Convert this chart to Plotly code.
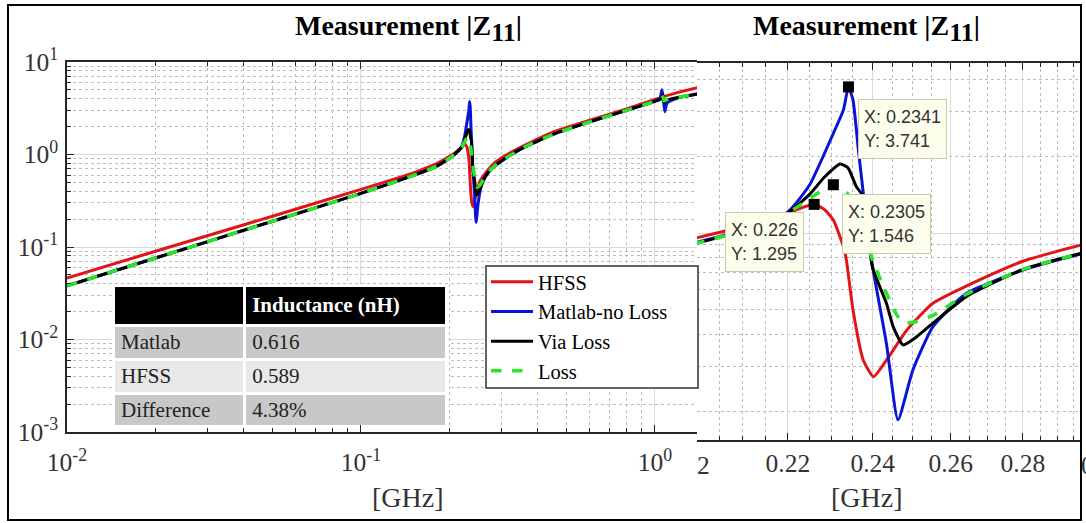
import numpy as np
import plotly.graph_objects as go

W, H = 1086, 523
def px(x): return x / W
def py(y): return 1 - y / H

# ---------------- data (frequency in GHz, |Z11| in ohm) ----------------
f_hfss = [0.01, 0.02, 0.05, 0.1, 0.15, 0.18, 0.2, 0.21, 0.22, 0.226, 0.2283, 0.2305, 0.2329,
          0.2336, 0.2352, 0.2377, 0.2402, 0.2434, 0.2486, 0.2553, 0.2687, 0.28, 0.2977,
          0.35, 0.45, 0.6, 0.8, 1.0, 1.2, 1.4]
z_hfss = [0.046, 0.09, 0.215, 0.42, 0.63, 0.79, 0.955, 1.06, 1.2, 1.295, 1.24, 1.124, 0.884,
          0.784, 0.499, 0.317, 0.273, 0.317, 0.417, 0.530, 0.664, 0.775, 0.90,
          1.2, 1.75, 2.35, 3.1, 3.95, 4.7, 5.3]

f_noloss = [0.01, 0.02, 0.05, 0.1, 0.15, 0.18, 0.2, 0.21, 0.22, 0.225, 0.2305, 0.2329, 0.2341,
            0.2352, 0.2365, 0.2377, 0.2397, 0.2434, 0.2463, 0.2501, 0.2553, 0.2642, 0.28, 0.2977,
            0.35, 0.45, 0.6, 0.8, 1.0, 1.04, 1.056, 1.066, 1.08, 1.1, 1.2, 1.4]
z_noloss = [0.038, 0.076, 0.19, 0.38, 0.59, 0.74, 0.915, 1.03, 1.21, 1.55, 2.46, 3.04, 3.741,
            3.32, 2.115, 1.43, 0.784, 0.369, 0.185, 0.29, 0.429, 0.58, 0.715, 0.83,
            1.15, 1.65, 2.25, 3.0, 3.8, 4.05, 5.0, 4.2, 2.9, 3.6, 4.1, 4.55]

f_via = [0.01, 0.02, 0.05, 0.1, 0.15, 0.18, 0.2, 0.21, 0.22, 0.225, 0.2283, 0.2321, 0.234,
         0.236, 0.2377, 0.2399, 0.2434, 0.2451, 0.2476, 0.2511, 0.2553, 0.2642, 0.28, 0.2977,
         0.35, 0.45, 0.6, 0.8, 1.0, 1.05, 1.065, 1.075, 1.09, 1.2, 1.4]
z_via = [0.038, 0.076, 0.19, 0.38, 0.59, 0.74, 0.91, 1.02, 1.2, 1.42, 1.65, 1.865, 1.80,
         1.52, 1.39, 0.738, 0.53, 0.429, 0.364, 0.392, 0.443, 0.563, 0.72, 0.835,
         1.15, 1.65, 2.25, 3.0, 3.75, 4.0, 4.4, 3.6, 3.85, 4.15, 4.5]

f_loss = [0.01, 0.02, 0.05, 0.1, 0.15, 0.18, 0.2, 0.21, 0.22, 0.2273, 0.2305, 0.232, 0.234,
          0.236, 0.238, 0.24, 0.2434, 0.2463, 0.2481, 0.2511, 0.2553, 0.2642, 0.28, 0.2977,
          0.35, 0.45, 0.6, 0.8, 1.0, 1.05, 1.065, 1.075, 1.09, 1.2, 1.4]
z_loss = [0.038, 0.076, 0.19, 0.38, 0.59, 0.74, 0.91, 1.02, 1.2, 1.45, 1.546, 1.53, 1.42,
          1.22, 0.98, 0.78, 0.58, 0.47, 0.444, 0.45, 0.475, 0.575, 0.72, 0.835,
          1.15, 1.65, 2.25, 3.0, 3.75, 4.0, 4.2, 3.8, 3.9, 4.15, 4.5]

tip_x = [0.2341, 0.2305, 0.226]
tip_y = [3.741, 1.546, 1.295]

table_rows = ["Matlab", "HFSS", "Difference"]
table_vals = ["0.616", "0.589", "4.38%"]

left_xticks = [0.01, 0.1, 1]
left_xtext = ["10<sup>-2</sup>", "10<sup>-1</sup>", "10<sup>0</sup>"]
left_yticks = [0.001, 0.01, 0.1, 1, 10]
left_ytext = ["10<sup>-3</sup>", "10<sup>-2</sup>", "10<sup>-1</sup>", "10<sup>0</sup>", "10<sup>1</sup>"]
right_xticks = [0.22, 0.24, 0.26, 0.28]
right_xtext = ["0.22", "0.24", "0.26", "0.28"]

series = [
    ("HFSS", f_hfss, z_hfss, dict(color="rgb(225,20,25)", width=3)),
    ("Matlab-no Loss", f_noloss, z_noloss, dict(color="rgb(10,20,215)", width=3)),
    ("Via Loss", f_via, z_via, dict(color="black", width=3)),
    ("Loss", f_loss, z_loss, dict(color="rgb(40,230,40)", width=3.5, dash="dash")),
]

fig = go.Figure()
for name, f, z, ln in series:
    fig.add_trace(go.Scatter(x=f, y=z, mode="lines", name=name, line=dict(**ln, shape="spline", smoothing=0.5),
                             xaxis="x", yaxis="y", showlegend=True))
for name, f, z, ln in series:
    fig.add_trace(go.Scatter(x=f, y=z, mode="lines", name=name, line=dict(**ln, shape="spline", smoothing=0.5),
                             xaxis="x2", yaxis="y2", showlegend=False))
fig.add_trace(go.Scatter(x=tip_x, y=tip_y, mode="markers", xaxis="x2", yaxis="y2", showlegend=False,
                         marker=dict(symbol="square", size=11, color="black")))

# table
gray1, gray2 = "rgb(200,200,200)", "rgb(232,232,232)"
fig.add_trace(go.Table(
    domain=dict(x=[px(113), px(446)], y=[py(426), py(285)]),
    columnwidth=[130, 200],
    header=dict(values=["", "<b>Inductance (nH)</b>"], fill_color="black", align="left",
                font=dict(family="Liberation Serif", size=21, color="white"), height=32,
                line=dict(color="white", width=3)),
    cells=dict(values=[table_rows, table_vals], align="left",
               fill_color=[[gray1, gray2, gray1], [gray1, gray2, gray1]],
               font=dict(family="Liberation Serif", size=21, color="#222"), height=34,
               line=dict(color="white", width=3)),
))

def minor_log(lo, hi):
    v = []
    for k in range(lo, hi + 1):
        for m in range(2, 10):
            v.append(m * 10.0 ** k)
    return v

axcol = "#262626"
tickfont = dict(family="Liberation Serif", size=25.5, color="#333")
common = dict(showline=True, linecolor=axcol, linewidth=1.5, ticks="inside", tickcolor=axcol,
              ticklen=7, tickwidth=1.2, gridcolor="#d9d9d9", gridwidth=1, zeroline=False,
              tickfont=tickfont, automargin=False)

fig.update_layout(
    width=W, height=H, margin=dict(l=0, r=0, t=0, b=0, autoexpand=False),
    paper_bgcolor="white", plot_bgcolor="white",
    xaxis=dict(type="log", domain=[px(67), px(697)], range=[-2, np.log10(1.39)], anchor="y",
               tickmode="array", tickvals=left_xticks, ticktext=left_xtext, mirror="ticks",
               ticklabelstandoff=7,
               minor=dict(tickmode="array", tickvals=minor_log(-2, 0), ticks="inside", ticklen=4,
                          tickcolor=axcol, showgrid=True, gridcolor="#bdbdbd", griddash="dot"),
               **common),
    yaxis=dict(type="log", domain=[py(432), py(62)], range=[-3, 1], anchor="x",
               tickmode="array", tickvals=left_yticks, ticktext=left_ytext, ticklabelstandoff=2,
               minor=dict(tickmode="array", tickvals=minor_log(-3, 0), ticks="inside", ticklen=4,
                          tickcolor=axcol, showgrid=True, gridcolor="#bdbdbd", griddash="dot"),
               **common),
    xaxis2=dict(type="log", domain=[px(697), px(1081)], range=[np.log10(0.2004), np.log10(0.2972)],
                anchor="y2", tickmode="array", tickvals=right_xticks, ticktext=right_xtext, mirror="ticks",
                ticklabelstandoff=0,
                minor=dict(tickmode="array",
                           tickvals=[0.205, 0.21, 0.215, 0.225, 0.23, 0.235, 0.245, 0.25, 0.255,
                                     0.265, 0.27, 0.275, 0.285, 0.29, 0.295],
                           ticks="inside", ticklen=4, tickcolor=axcol, showgrid=True,
                           gridcolor="#bdbdbd", griddash="dot"),
                **common),
    yaxis2=dict(type="log", domain=[py(440), py(63)], range=[-0.8118, 0.6667], anchor="x2",
                showline=False, ticks="", showticklabels=False, gridcolor="#d9d9d9", zeroline=False,
                tickmode="array", tickvals=[1], automargin=False,
                minor=dict(tickmode="array", tickvals=[0.2, 0.3, 0.4, 0.5, 0.6, 0.7, 0.8, 0.9, 2, 3, 4],
                           showgrid=True, gridcolor="#bdbdbd", griddash="dot")),
    legend=dict(x=px(486), y=py(262), xanchor="left", yanchor="top", bgcolor="rgba(0,0,0,0)",
                borderwidth=0, itemwidth=42,
                font=dict(family="Liberation Serif", size=20.5, color="black")),
    showlegend=True,
)

# legend frame (white box with dark border behind the legend entries)
fig.add_shape(type="rect", xref="paper", yref="paper", x0=px(486), x1=px(698), y0=py(388), y1=py(266),
              line=dict(color="#333", width=1.5), fillcolor="white", layer="above")

ann = []
title = "<b>Measurement |Z<sub><span style='font-size:26px'>11</span></sub>|</b>"
for xc in (408, 866):
    ann.append(dict(text=title, x=px(xc), y=py(29), xref="paper", yref="paper", showarrow=False,
                    xanchor="center", yanchor="middle",
                    font=dict(family="Liberation Serif", size=28, color="black")))
for xc in (408, 867):
    ann.append(dict(text="[GHz]", x=px(xc), y=py(497), xref="paper", yref="paper", showarrow=False,
                    xanchor="center", yanchor="middle",
                    font=dict(family="Liberation Serif", size=28, color="#333")))
# cropped tick label fragments of the zoomed panel
ann.append(dict(text="2", x=px(703), y=py(465), xref="paper", yref="paper", showarrow=False,
                xanchor="center", yanchor="middle", font=tickfont))
ann.append(dict(text="0", x=px(1079), y=py(465), xref="paper", yref="paper", showarrow=False,
                xanchor="left", yanchor="middle", font=tickfont))
# data tips
tipfont = dict(family="Liberation Sans", size=18, color="#333")
offsets = [("left", 10, -12), ("left", 9, -9), ("right", -10, -8)]
for (xa, xs, ys), tx, ty in zip(offsets, tip_x, tip_y):
    ann.append(dict(text=f"X: {tx}<br>Y: {ty}", x=np.log10(tx), y=np.log10(ty), xref="x2", yref="y2",
                    showarrow=False, xanchor=xa, yanchor="top", xshift=xs, yshift=ys, align="left",
                    height=48, valign="middle",
                    bgcolor="rgb(253,253,235)", bordercolor="rgb(200,200,180)", borderwidth=1,
                    borderpad=5, font=tipfont))
fig.update_layout(annotations=ann)

fig.add_shape(type="rect", xref="paper", yref="paper", x0=px(8), x1=px(1081), y0=py(520), y1=py(5),
              line=dict(color="black", width=2), layer="above")

fig.write_html("out.html")
